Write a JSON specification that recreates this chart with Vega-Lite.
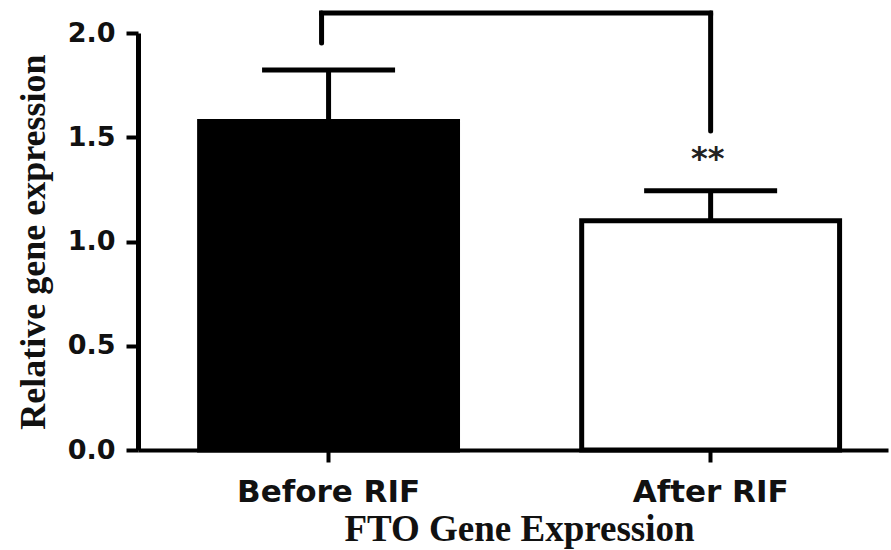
{
  "$schema": "https://vega.github.io/schema/vega-lite/v6.json",
  "autosize": "none",
  "width": 750,
  "height": 417,
  "padding": {"left": 138, "top": 33, "right": 3, "bottom": 100},
  "background": "white",
  "config": {"view": {"stroke": null}},
  "datasets": {
    "bars": [
      {"group": "Before RIF", "mean": 1.575, "upper": 1.823},
      {"group": "After RIF", "mean": 1.10, "upper": 1.244}
    ],
    "bracket": [
      {"from": "Before RIF", "to": "After RIF", "top": 2.096, "fromEnd": 1.952, "toEnd": 1.53, "label": "**", "labelY": 1.35}
    ]
  },
  "layer": [
    {
      "data": {"name": "bars"},
      "mark": {"type": "bar", "stroke": "black", "strokeWidth": 5},
      "encoding": {
        "x": {
          "field": "group", "type": "nominal", "sort": ["Before RIF", "After RIF"],
          "scale": {"domain": ["Before RIF", "After RIF"], "paddingInner": 0.325, "paddingOuter": 0.144, "align": 0.56},
          "axis": {
            "title": "FTO Gene Expression",
            "titleFont": "Liberation Serif", "titleFontWeight": "bold", "titleFontSize": 37, "titleColor": "#111",
            "titleX": 381, "titleY": 90, "titleBaseline": "alphabetic", "titleAlign": "center", "titleLimit": 0,
            "labelAngle": 0, "labelFont": "DejaVu Sans", "labelFontWeight": "bold", "labelFontSize": 31, "labelColor": "#111",
            "labelPadding": 15, "labelLimit": 0, "tickSize": 12, "tickWidth": 4, "tickColor": "black",
            "domainColor": "black", "domainWidth": 4, "grid": false
          }
        },
        "y": {
          "field": "mean", "type": "quantitative",
          "scale": {"domain": [0, 2], "nice": false, "zero": true},
          "axis": {
            "title": "Relative gene expression",
            "titleFont": "Liberation Serif", "titleFontWeight": "bold", "titleFontSize": 36, "titleColor": "#111",
            "titleX": -94, "titleY": 208.5, "titleBaseline": "alphabetic", "titleAlign": "center", "titleAngle": -90, "titleLimit": 0,
            "values": [0, 0.5, 1, 1.5, 2], "format": ".1f",
            "labelFont": "DejaVu Sans", "labelFontWeight": "bold", "labelFontSize": 27, "labelColor": "#111",
            "labelPadding": 11, "tickSize": 12, "tickWidth": 4, "tickColor": "black",
            "domainColor": "black", "domainWidth": 5, "grid": false
          }
        },
        "fill": {
          "field": "group", "type": "nominal",
          "scale": {"domain": ["Before RIF", "After RIF"], "range": ["#000000", "#ffffff"]},
          "legend": null
        }
      }
    },
    {
      "data": {"name": "bars"},
      "mark": {"type": "rule", "stroke": "black", "strokeWidth": 5},
      "encoding": {
        "x": {"field": "group", "type": "nominal"},
        "y": {"field": "mean", "type": "quantitative"},
        "y2": {"field": "upper"}
      }
    },
    {
      "data": {"name": "bars"},
      "mark": {"type": "tick", "color": "black", "size": 133, "thickness": 5, "opacity": 1},
      "encoding": {
        "x": {"field": "group", "type": "nominal"},
        "y": {"field": "upper", "type": "quantitative"}
      }
    },
    {
      "data": {"name": "bracket"},
      "mark": {"type": "rule", "stroke": "black", "strokeWidth": 5, "xOffset": -7, "strokeCap": "round"},
      "encoding": {
        "x": {"field": "from", "type": "nominal"},
        "y": {"field": "fromEnd", "type": "quantitative"},
        "y2": {"field": "top"}
      }
    },
    {
      "data": {"name": "bracket"},
      "mark": {"type": "rule", "stroke": "black", "strokeWidth": 5, "strokeCap": "round"},
      "encoding": {
        "x": {"field": "to", "type": "nominal"},
        "y": {"field": "toEnd", "type": "quantitative"},
        "y2": {"field": "top"}
      }
    },
    {
      "data": {"name": "bracket"},
      "mark": {"type": "rule", "stroke": "black", "strokeWidth": 5, "xOffset": -7, "x2Offset": 0, "strokeCap": "square"},
      "encoding": {
        "x": {"field": "from", "type": "nominal"},
        "x2": {"field": "to"},
        "y": {"field": "top", "type": "quantitative"}
      }
    },
    {
      "data": {"name": "bracket"},
      "mark": {"type": "text", "font": "DejaVu Sans", "fontWeight": "bold", "fontSize": 32, "color": "#222", "baseline": "alphabetic", "align": "center", "dx": -3},
      "encoding": {
        "x": {"field": "to", "type": "nominal"},
        "y": {"field": "labelY", "type": "quantitative"},
        "text": {"field": "label"}
      }
    }
  ]
}
